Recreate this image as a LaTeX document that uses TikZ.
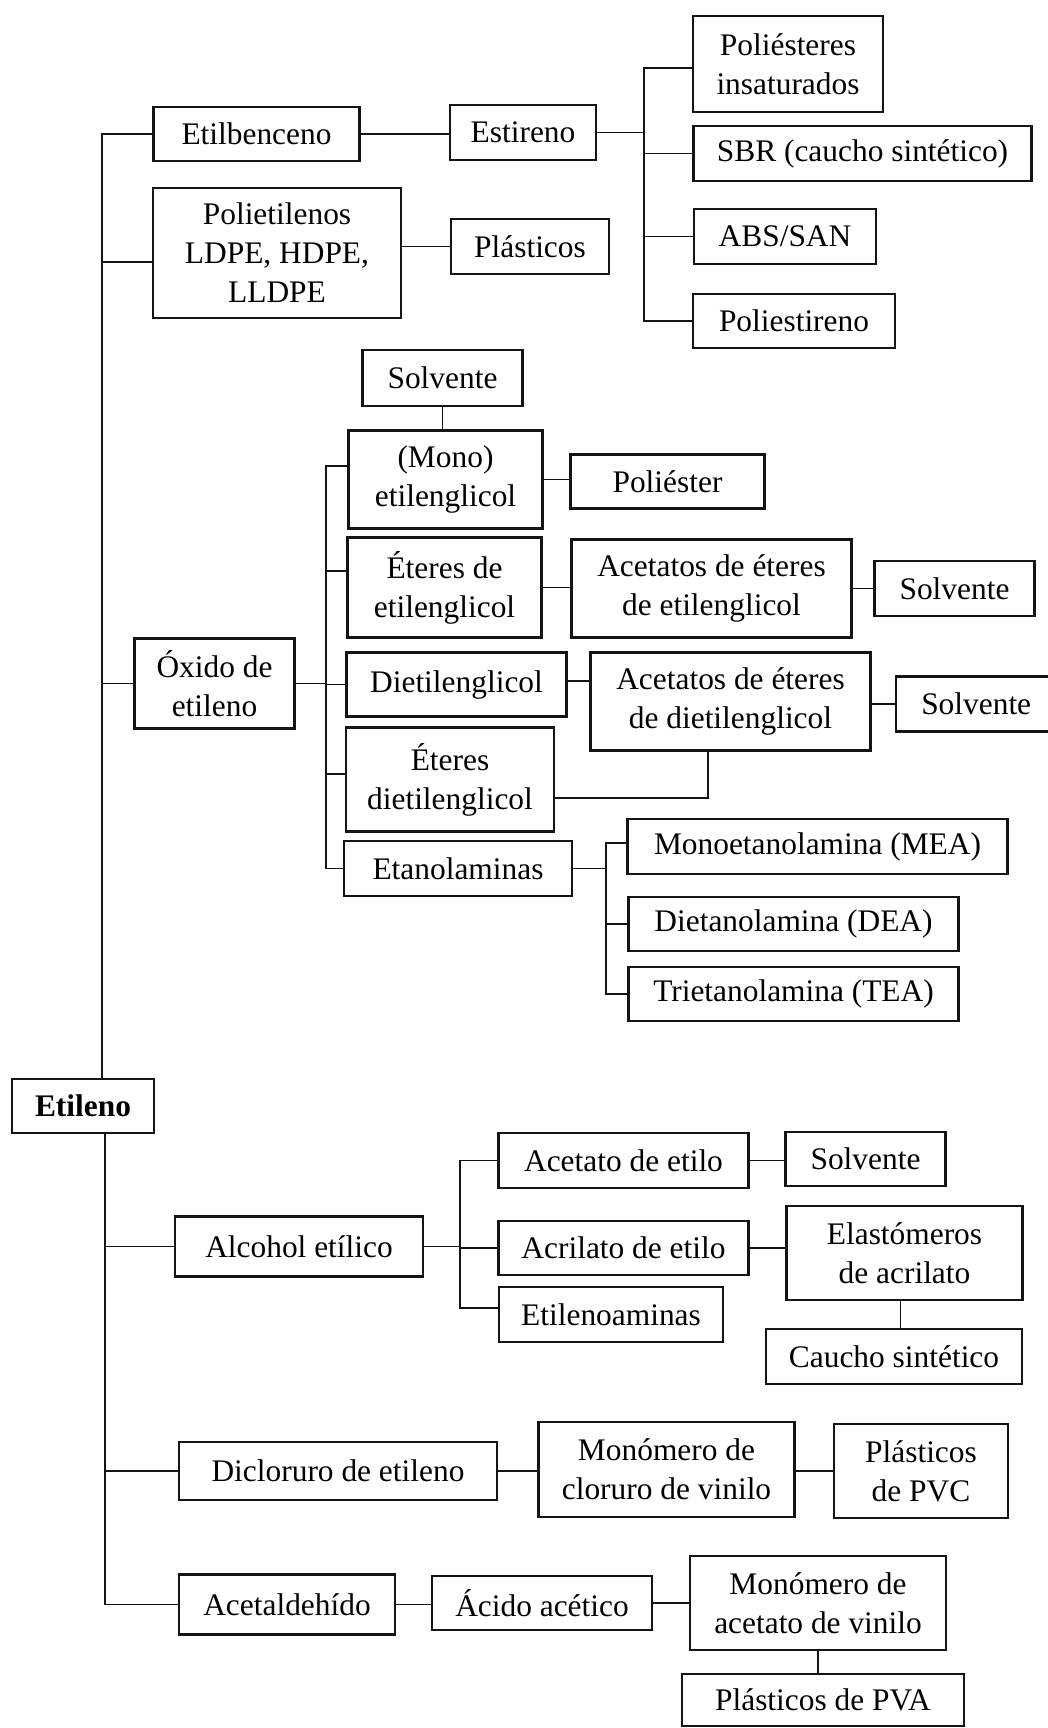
\documentclass[tikz,border=0pt]{standalone}
\usepackage{fontspec}
\setmainfont{Liberation Serif}
\usepackage{tikz}
\usetikzlibrary{positioning, calc}
\definecolor{myline}{RGB}{20,20,20}
\tikzset{
  box/.style={rectangle, draw=myline, line width=1.2pt, align=center,
    inner sep=0pt, font=\fontsize{15.7}{19.5}\selectfont},
  rootbox/.style={box, font=\fontsize{15.7}{19.5}\selectfont\bfseries},
  link/.style={line width=0.6pt, color=myline}
}

\begin{document}
\begin{tikzpicture}[x=0.5pt, y=-0.5pt]
  \useasboundingbox (0,0) rectangle (1048,1728);
  \fill[white] (0,0) rectangle (1048,1728);
  % Root
  \node[rootbox, minimum width=71pt, minimum height=27pt] (etileno) at (83,1106) {Etileno};
  % Etilbenceno branch
  \node[box, minimum width=103pt, minimum height=27pt] (etilbenceno) at (256.5,134) {Etilbenceno};
  \node[box, minimum width=73pt, minimum height=27.5pt] (estireno) at (523,132.5) {Estireno};
  \node[box, minimum width=95pt, minimum height=48pt] (poliesteres) at (788,64) {Poliésteres\\insaturados};
  \node[box, minimum width=169pt, minimum height=27.5pt] (sbr) at (862.5,153.5) {SBR (caucho sintético)};
  \node[box, minimum width=91pt, minimum height=27.5pt] (abs) at (785,236.5) {ABS/SAN};
  \node[box, minimum width=101pt, minimum height=27pt] (poliestireno) at (794,321) {Poliestireno};
  % Polietilenos branch
  \node[box, minimum width=124pt, minimum height=65pt] (polietilenos) at (277,253) {Polietilenos\\LDPE, HDPE,\\LLDPE};
  \node[box, minimum width=79pt, minimum height=27.5pt] (plasticos) at (530,246.5) {Plásticos};
  % Oxido de etileno branch
  \node[box, minimum width=80pt, minimum height=45pt] (oxido) at (214.5,683.5) {Óxido de\\etileno};
  \node[box, minimum width=80pt, minimum height=28pt] (solvente1) at (442.5,378) {Solvente};
  \node[box, minimum width=97pt, minimum height=49pt] (mono) at (445.5,479.5) {(Mono)\\etilenglicol};
  \node[box, minimum width=97pt, minimum height=27pt] (poliester) at (667.5,481.5) {Poliéster};
  \node[box, minimum width=97pt, minimum height=50pt] (eteres) at (444.5,587.5) {Éteres de\\etilenglicol};
  \node[box, minimum width=140pt, minimum height=49pt] (acetetil) at (711.5,588.5) {Acetatos de éteres\\de etilenglicol};
  \node[box, minimum width=80pt, minimum height=27.5pt] (solvente2) at (954.5,588.5) {Solvente};
  \node[box, minimum width=110pt, minimum height=32pt] (dietilenglicol) at (456.5,684.5) {Dietilenglicol};
  \node[box, minimum width=140pt, minimum height=49pt] (acetdi) at (730.5,701.5) {Acetatos de éteres\\de dietilenglicol};
  \node[box, minimum width=80pt, minimum height=27.5pt, anchor=west] (solvente3) at (895,704) {Solvente};
  \node[box, minimum width=104pt, minimum height=52pt] (eteresdi) at (450,779.5) {Éteres\\dietilenglicol};
  \node[box, minimum width=114pt, minimum height=27.5pt] (etanolaminas) at (458,868.5) {Etanolaminas};
  \node[box, minimum width=190pt, minimum height=27.5pt] (mea) at (817.5,846.5) {Monoetanolamina (MEA)};
  \node[box, minimum width=165pt, minimum height=27pt] (dea) at (793.5,924) {Dietanolamina (DEA)};
  \node[box, minimum width=165pt, minimum height=27pt] (tea) at (793.5,994) {Trietanolamina (TEA)};
  % Alcohol etilico branch
  \node[box, minimum width=124pt, minimum height=30pt] (alcohol) at (299,1246.5) {Alcohol etílico};
  \node[box, minimum width=125pt, minimum height=27.5pt] (acetato) at (623.5,1160.5) {Acetato de etilo};
  \node[box, minimum width=80pt, minimum height=27pt] (solvente4) at (865.5,1159) {Solvente};
  \node[box, minimum width=125pt, minimum height=27pt] (acrilato) at (623.5,1248) {Acrilato de etilo};
  \node[box, minimum width=118pt, minimum height=47pt] (elastomeros) at (904.5,1253) {Elastómeros\\de acrilato};
  \node[box, minimum width=128pt, minimum height=27.5pt] (caucho) at (894,1356.5) {Caucho sintético};
  \node[box, minimum width=112pt, minimum height=27.5pt] (etilenoaminas) at (611,1314.5) {Etilenoaminas};
  % Dicloruro branch
  \node[box, minimum width=159pt, minimum height=29pt] (dicloruro) at (338,1471) {Dicloruro de etileno};
  \node[box, minimum width=128pt, minimum height=47.5pt] (mvc) at (666.5,1469.5) {Monómero de\\cloruro de vinilo};
  \node[box, minimum width=87pt, minimum height=47pt] (pvc) at (921,1471) {Plásticos\\de PVC};
  % Acetaldehido branch
  \node[box, minimum width=108pt, minimum height=30pt] (acetaldehido) at (287,1604.5) {Acetaldehído};
  \node[box, minimum width=110pt, minimum height=27pt] (acido) at (542,1603) {Ácido acético};
  \node[box, minimum width=128pt, minimum height=47pt] (mva) at (818,1603) {Monómero de\\acetato de vinilo};
  \node[box, minimum width=141pt, minimum height=26pt] (pva) at (823,1700) {Plásticos de PVA};

  % Trunk
  \coordinate (trunk) at (102,0);
  \coordinate (trunkb) at (105,0);
  \coordinate (polyin) at ([yshift=-4.5pt]polietilenos.west);
  \draw[link] (etilbenceno.west) -| (trunk |- etileno.north);
  \draw[link] (polyin) -- (trunk |- polyin);
  \draw[link] (oxido.west) -- (trunk |- oxido.west);
  \draw[link] (trunkb |- etileno.south) |- (acetaldehido.west);
  \draw[link] (alcohol.west) -- (trunkb |- alcohol.west);
  \draw[link] (dicloruro.west) -- (trunkb |- dicloruro.west);
  % Estireno fan
  \coordinate (estfan) at (644,0);
  \draw[link] (etilbenceno.east) -- (etilbenceno.east -| estireno.west);
  \draw[link] (estireno.east) -- (estfan |- estireno.east);
  \draw[link] ([yshift=-2pt]poliesteres.west) -| (estfan |- poliestireno.west) -- (poliestireno.west);
  \draw[link] (sbr.west) -- (estfan |- sbr.west);
  \draw[link] (abs.west) -- (estfan |- abs.west);
  \draw[link] (plasticos.west) -- (plasticos.west -| polietilenos.east);
  % Oxido fan
  \coordinate (oxfan) at (326,0);
  \coordinate (monoin) at ([yshift=6.75pt]mono.west);
  \coordinate (eteresin) at ([yshift=8.25pt]eteres.west);
  \coordinate (eteresdiin) at ([yshift=2.75pt]eteresdi.west);
  \coordinate (eteresdiout) at ([yshift=-9.25pt]eteresdi.east);
  \draw[link] (oxido.east) -- (oxfan |- oxido.east);
  \draw[link] (monoin) -| (oxfan |- etanolaminas.west) -- (etanolaminas.west);
  \foreach \n in {eteresin, dietilenglicol.west, eteresdiin}
    \draw[link] (\n) -- (oxfan |- \n);
  \draw[link] (solvente1.south) -- (solvente1.south |- mono.north);
  \draw[link] (mono.east) -- (mono.east -| poliester.west);
  \draw[link] (eteres.east) -- (eteres.east -| acetetil.west);
  \draw[link] (acetetil.east) -- (acetetil.east -| solvente2.west);
  \draw[link] ([yshift=1.75pt]dietilenglicol.east) -- ([yshift=1.75pt]dietilenglicol.east -| acetdi.west);
  \draw[link] (solvente3.west) -- (solvente3.west -| acetdi.east);
  \draw[link] (eteresdiout) -| ([xshift=-11.25pt]acetdi.south);
  % Etanolaminas fan
  \coordinate (etafan) at (606,0);
  \draw[link] (etanolaminas.east) -- (etafan |- etanolaminas.east);
  \draw[link] ([yshift=1.75pt]mea.west) -| (etafan |- tea.west) -- (tea.west);
  \draw[link] (dea.west) -- (etafan |- dea.west);
  % Alcohol fan
  \coordinate (alcfan) at (460,0);
  \coordinate (etilenoin) at ([yshift=3.25pt]etilenoaminas.west);
  \draw[link] (alcohol.east) -- (alcfan |- alcohol.east);
  \draw[link] (acetato.west) -| (alcfan |- etilenoin) -- (etilenoin);
  \draw[link] (acrilato.west) -- (alcfan |- acrilato.west);
  \draw[link] (acetato.east) -- (acetato.east -| solvente4.west);
  \draw[link] (acrilato.east) -- (acrilato.east -| elastomeros.west);
  \draw[link] ([xshift=-2pt]elastomeros.south) -- ([xshift=-2pt]elastomeros.south |- caucho.north);
  % Vinilo chains
  \draw[link] (dicloruro.east) -- (dicloruro.east -| mvc.west);
  \draw[link] (pvc.west) -- (pvc.west -| mvc.east);
  \draw[link] (acetaldehido.east) -- (acetaldehido.east -| acido.west);
  \draw[link] (acido.east) -- (acido.east -| mva.west);
  \draw[link] (mva.south) -- (mva.south |- pva.north);
\end{tikzpicture}
\end{document}
